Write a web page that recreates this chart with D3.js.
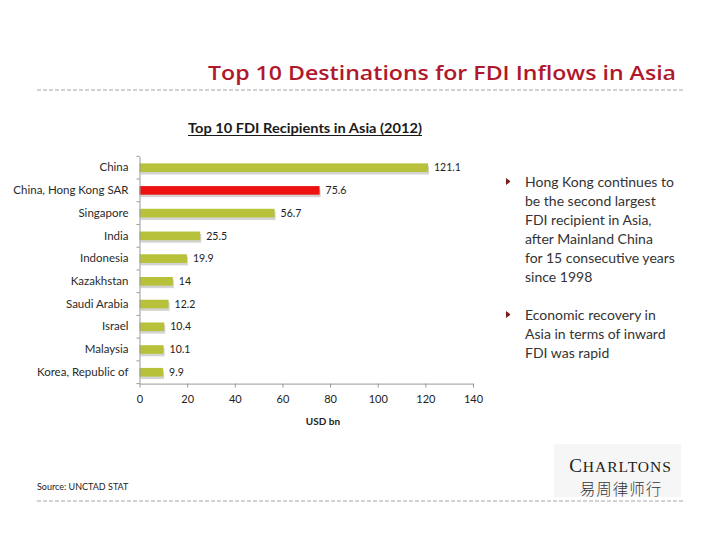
<!DOCTYPE html>
<html><head><meta charset="utf-8">
<script src="https://cdn.jsdelivr.net/npm/d3@7"></script>
<style>body{margin:0;background:#fff}svg{display:block}</style>
</head><body>
<svg id="c" width="720" height="540"></svg>
<script>
const categories = ["China","China, Hong Kong SAR","Singapore","India","Indonesia","Kazakhstan","Saudi Arabia","Israel","Malaysia","Korea, Republic of"];
const values = [121.1,75.6,56.7,25.5,19.9,14,12.2,10.4,10.1,9.9];
const valueLabels = ["121.1","75.6","56.7","25.5","19.9","14","12.2","10.4","10.1","9.9"];
const highlight = "China, Hong Kong SAR";
const xTicks = [0,20,40,60,80,100,120,140];
const bullets = [
  ["Hong Kong continues to","be the second largest","FDI recipient in Asia,","after Mainland China","for 15 consecutive years","since 1998"],
  ["Economic recovery in","Asia in terms of inward","FDI was rapid"]
];

const svg = d3.select("#c");
const F = "Lato, 'Open Sans', sans-serif";

// header
svg.append("text").attr("x",676).attr("y",80).attr("text-anchor","end")
  .attr("font-family","'Open Sans', sans-serif").attr("font-weight",600).attr("font-size",20).attr("fill","#b0182c")
  .attr("textLength",468).attr("lengthAdjust","spacingAndGlyphs")
  .text("Top 10 Destinations for FDI Inflows in Asia");
[90,501].forEach(y=>svg.append("line").attr("x1",37).attr("x2",685).attr("y1",y).attr("y2",y)
  .attr("stroke","#a6a6a6").attr("stroke-width",1).attr("stroke-dasharray","4,2"));

// chart title
svg.append("text").attr("x",188).attr("y",133).attr("font-family",F).attr("font-weight","bold")
  .attr("font-size",13).attr("fill","#1a1a1a").attr("textLength",234).attr("lengthAdjust","spacingAndGlyphs")
  .text("Top 10 FDI Recipients in Asia (2012)");
svg.append("line").attr("x1",188).attr("x2",422).attr("y1",135.5).attr("y2",135.5).attr("stroke","#1a1a1a").attr("stroke-width",1);

const x = d3.scaleLinear().domain([0,140]).range([139.5,473]);
const y = d3.scaleBand().domain(categories).range([156.3,383.6]).paddingInner(0.62).paddingOuter(0.31);

const g = svg.append("g");
// shadows
g.selectAll("rect.sh").data(values).enter().append("rect")
  .attr("x",x(0)+1).attr("y",(d,i)=>y(categories[i])+2.5).attr("width",d=>x(d)-x(0))
  .attr("height",y.bandwidth()).attr("fill","#c8c8c8").attr("opacity",0.8);
g.selectAll("rect.b").data(values).enter().append("rect")
  .attr("x",x(0)).attr("y",(d,i)=>y(categories[i])).attr("width",d=>x(d)-x(0))
  .attr("height",y.bandwidth()).attr("fill",(d,i)=>categories[i]===highlight?"#ee1111":"#b7c23a");
g.selectAll("text.v").data(values).enter().append("text")
  .attr("x",d=>x(d)+6).attr("y",(d,i)=>y(categories[i])+y.bandwidth()/2).attr("dy","0.35em")
  .attr("font-family",F).attr("font-size",10.5).attr("fill","#222").text((d,i)=>valueLabels[i]);

// y axis
const ya = svg.append("g").attr("transform",`translate(${x(0)},0)`)
  .call(d3.axisLeft(y).tickSize(0).tickPadding(11));
ya.select(".domain").attr("stroke","#999");
ya.selectAll("text").attr("font-family",F).attr("font-size",11.5).attr("fill","#2a2a2a");
const bounds = d3.range(categories.length+1).map(i=>156.3+i*(383.6-156.3)/categories.length);
svg.append("g").selectAll("line").data(bounds).enter().append("line")
  .attr("x1",x(0)-3).attr("x2",x(0)).attr("y1",d=>d).attr("y2",d=>d).attr("stroke","#999");

// x axis
const xa = svg.append("g").attr("transform",`translate(0,383.6)`)
  .call(d3.axisBottom(x).tickValues(xTicks).tickSize(4).tickPadding(8).tickSizeOuter(0));
xa.select(".domain").attr("stroke","#999");
xa.selectAll("line").attr("stroke","#999");
xa.selectAll("text").attr("font-family",F).attr("font-size",11).attr("fill","#222");
svg.append("text").attr("x",323).attr("y",425).attr("text-anchor","middle").attr("font-family",F)
  .attr("font-weight","bold").attr("font-size",10).attr("fill","#222").text("USD bn");

// bullets
const lh = 19;
let yy = 187;
bullets.forEach(lines=>{
  svg.append("path").attr("d",`M506,${yy-9}L510.5,${yy-5.5}L506,${yy-2}Z`).attr("fill","#7a1a1a");
  lines.forEach((l,j)=>svg.append("text").attr("x",525).attr("y",yy+j*lh).attr("font-family",F)
    .attr("font-size",14).attr("fill","#333").text(l));
  yy += lines.length*lh + 19;
});

// source
svg.append("text").attr("x",37).attr("y",490).attr("font-family",F).attr("font-size",9).attr("fill","#222")
  .text("Source: UNCTAD STAT");

// logo
svg.append("rect").attr("x",554).attr("y",444).attr("width",127).attr("height",53).attr("fill","#f6f6f6");
const lg = svg.append("text").attr("x",620.5).attr("y",472).attr("text-anchor","middle")
  .attr("font-family","'Liberation Serif', serif").attr("fill","#222").attr("letter-spacing",1);
lg.append("tspan").attr("font-size",19).text("C");
lg.append("tspan").attr("font-size",15.5).text("HARLTONS");
svg.append("text").attr("x",621).attr("y",495).attr("text-anchor","middle")
  .attr("font-family","'Noto Sans CJK SC', sans-serif").attr("font-weight",300).attr("font-size",15.5).attr("fill","#333")
  .attr("letter-spacing",1).text("易周律师行");
</script>
</body></html>
